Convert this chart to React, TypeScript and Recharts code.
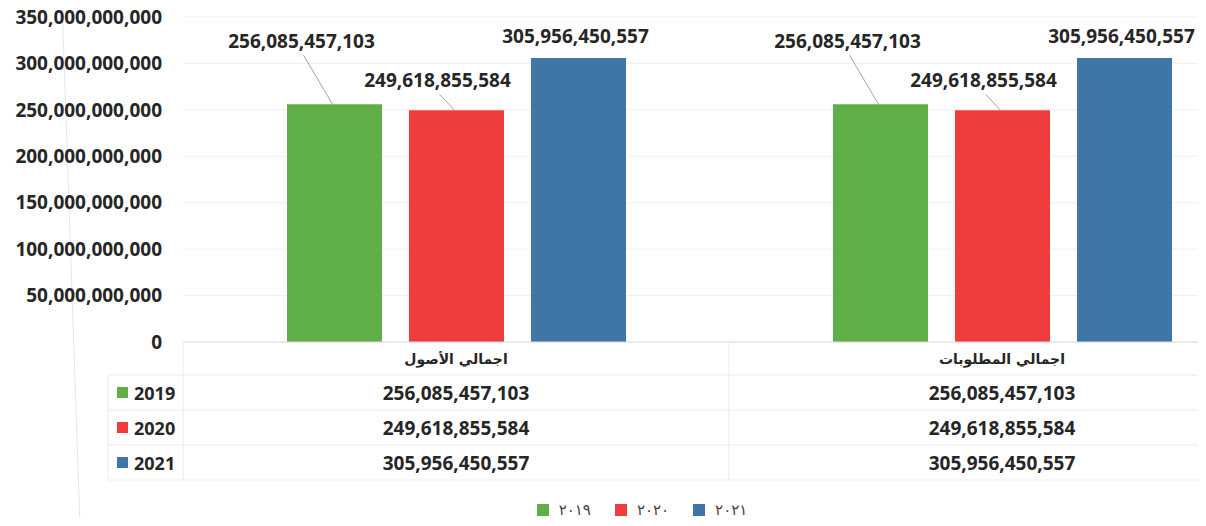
import React from "react";
import { BarChart, Bar, XAxis, YAxis, CartesianGrid, LabelList } from "recharts";

const categories = ["اجمالي الأصول", "اجمالي المطلوبات"];
const years = ["2019", "2020", "2021"];
const yearsArabic = ["٢٠١٩", "٢٠٢٠", "٢٠٢١"];
const values2019 = [256085457103, 256085457103];
const values2020 = [249618855584, 249618855584];
const values2021 = [305956450557, 305956450557];
const yTicks = [0, 50e9, 100e9, 150e9, 200e9, 250e9, 300e9, 350e9];

const colors = ["#5fae48", "#f03c3c", "#3f76a5"];
const FONT = '"Open Sans", "DejaVu Sans", sans-serif';
const AR_FONT = '"DejaVu Sans", sans-serif';
const TEXT = "#262626";

const seriesValues = [values2019, values2020, values2021];
const data = categories.map((name, i) => ({
  name,
  v2019: values2019[i],
  v2020: values2020[i],
  v2021: values2021[i],
}));

const fmt = (v: number) => v.toLocaleString("en-US");

// label with an optional leader line back to the bar top
const leaderLabel = (dx: number, dy: number, line: boolean) => (props: any) => {
  const { x, y, width, value } = props;
  const cx = x + width / 2;
  const tx = cx + dx;
  const ty = y + dy;
  return (
    <g>
      {line && (
        <line x1={tx + 2} y1={ty + 14} x2={cx - 2} y2={y} stroke="#a6a6a6" strokeWidth={1} />
      )}
      <text
        x={tx}
        y={ty}
        textAnchor="middle"
        dominantBaseline="central"
        fontFamily={FONT}
        fontWeight={700}
        fontSize={19}
        fill={TEXT}
      >
        {fmt(value)}
      </text>
    </g>
  );
};

// x axis tick draws the category and its column of the data table
const TableTick = (props: any) => {
  const { x, y, index } = props;
  return (
    <g>
      <text
        x={x}
        y={y + 17}
        textAnchor="middle"
        dominantBaseline="central"
        fontFamily={AR_FONT}
        fontWeight={700}
        fontSize={14}
        fill={TEXT}
      >
        {categories[index]}
      </text>
      {seriesValues.map((vals, r) => (
        <text
          key={r}
          x={x}
          y={y + 51 + r * 35}
          textAnchor="middle"
          dominantBaseline="central"
          fontFamily={FONT}
          fontWeight={700}
          fontSize={19}
          fill={TEXT}
        >
          {fmt(vals[index])}
        </text>
      ))}
    </g>
  );
};

export default function App() {
  return (
    <div
      style={{
        position: "relative",
        width: 1206,
        height: 526,
        overflow: "hidden",
        margin: -8,
        background: "#fff",
      }}
    >
      {/* table grid + row headers */}
      <svg width={1206} height={526} style={{ position: "absolute", left: 0, top: 0 }}>
        <line x1={62} y1={0} x2={80} y2={526} stroke="#e6e6e6" />
        {[375, 410, 445, 480].map((yy) => (
          <line key={yy} x1={108} y1={yy} x2={1206} y2={yy} stroke="#ebebeb" />
        ))}
        <line x1={108} y1={375} x2={108} y2={480} stroke="#ebebeb" />
        <line x1={183} y1={342} x2={183} y2={480} stroke="#ebebeb" />
        <line x1={729} y1={342} x2={729} y2={480} stroke="#ebebeb" />
        {years.map((yr, r) => (
          <g key={yr}>
            <rect x={117} y={387 + r * 35} width={11} height={11} fill={colors[r]} />
            <text
              x={134}
              y={393 + r * 35}
              dominantBaseline="central"
              fontFamily={FONT}
              fontWeight={700}
              fontSize={18}
              fill={TEXT}
            >
              {yr}
            </text>
          </g>
        ))}
      </svg>

      <div style={{ position: "absolute", left: 0, top: 0 }}>
        <BarChart
          width={1290}
          height={526}
          data={data}
          margin={{ top: 17, right: 15, left: 0, bottom: 34 }}
          barSize={95}
          barGap={27}
        >
          <CartesianGrid vertical={false} stroke="#efefef" />
          <YAxis
            width={183}
            domain={[0, 350e9]}
            ticks={yTicks}
            tickFormatter={fmt}
            axisLine={false}
            tickLine={false}
            tickSize={0}
            tickMargin={21}
            tick={{ fontFamily: FONT, fontWeight: 700, fontSize: 19, fill: TEXT }}
          />
          <XAxis
            dataKey="name"
            height={150}
            axisLine={{ stroke: "#dcdcdc" }}
            tickLine={false}
            tickSize={0}
            tickMargin={0}
            interval={0}
            tick={<TableTick />}
          />
          <Bar dataKey="v2019" fill={colors[0]} isAnimationActive={false}>
            <LabelList dataKey="v2019" content={leaderLabel(-33, -63, true)} />
          </Bar>
          <Bar dataKey="v2020" fill={colors[1]} isAnimationActive={false}>
            <LabelList dataKey="v2020" content={leaderLabel(-19, -30, true)} />
          </Bar>
          <Bar dataKey="v2021" fill={colors[2]} isAnimationActive={false}>
            <LabelList dataKey="v2021" content={leaderLabel(-3, -22, false)} />
          </Bar>
        </BarChart>
      </div>

      {/* bottom legend */}
      <div
        style={{
          position: "absolute",
          left: 0,
          width: 1284,
          top: 501,
          display: "flex",
          justifyContent: "center",
          gap: 24,
          fontFamily: AR_FONT,
          fontSize: 15,
          letterSpacing: 5,
          color: "#444",
        }}
      >
        {yearsArabic.map((yr, i) => (
          <div key={yr} style={{ display: "flex", alignItems: "center", gap: 10 }}>
            <span style={{ width: 12, height: 12, background: colors[i], display: "inline-block" }} />
            <span>{yr}</span>
          </div>
        ))}
      </div>
    </div>
  );
}
